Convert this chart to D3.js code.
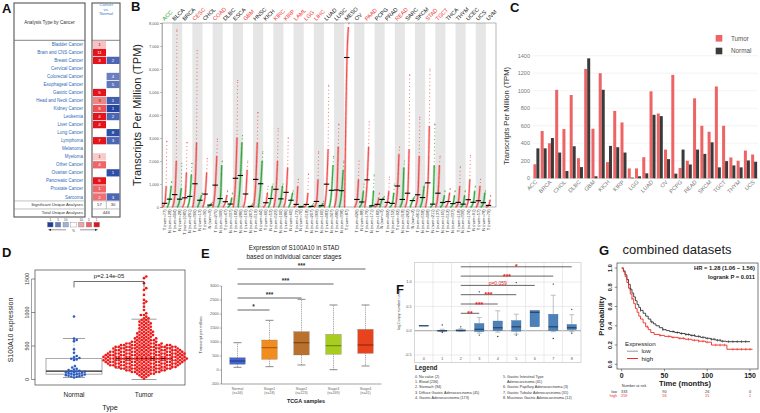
<!DOCTYPE html>
<html><head><meta charset="utf-8">
<script src="https://cdn.jsdelivr.net/npm/d3@7"></script>
<style>body{margin:0;background:#fff}svg{display:block}</style>
</head><body>
<script>
// ================= DATA =================
// Panel A (Oncomine)
const aCancers = ["Bladder Cancer","Brain and CNS Cancer","Breast Cancer","Cervical Cancer","Colorectal Cancer","Esophageal Cancer","Gastric Cancer","Head and Neck Cancer","Kidney Cancer","Leukemia","Liver Cancer","Lung Cancer","Lymphoma","Melanoma","Myeloma","Other Cancer","Ovarian Cancer","Pancreatic Cancer","Prostate Cancer","Sarcoma"];
const aUp       = [1,11,3,null,null,null,5,3,8,4,4,null,7,null,1,4,null,6,1,2];
const aUpShade  = [0.15,1,1,0,0,0,1,0.45,0.7,1,1,0,1,0,0.1,0.6,0,1,0.6,0.55];
const aDown     = [null,null,2,null,4,5,null,1,1,2,null,8,3,null,null,null,1,null,null,3];
const aDownShade= [0,0,0.75,0,0.6,0.65,0,0.8,0.95,0.75,0,0.9,0.75,0,0,0,0.9,0,0,0.75];
const aSummaryLabels = ["Significant Unique Analyses","Total Unique Analyses"];
const aSignificant = [57,30];
const aTotal = 446;
const aLegendLabels = ["1","5","10","","10","5","1"];

// Panel B (GEPIA dot plot)
const bCats = ["ACC","BLCA","BRCA","CESC","CHOL","COAD","DLBC","ESCA","GBM","HNSC","KICH","KIRC","KIRP","LAML","LGG","LIHC","LUAD","LUSC","MESO","OV","PAAD","PCPG","PRAD","READ","SARC","SKCM","STAD","TGCT","THCA","THYM","UCEC","UCS","UVM"];
const bSig  = ["down","ns","ns","up","ns","up","ns","ns","up","ns","ns","up","up","up","up","up","ns","ns","ns","ns","up","ns","ns","up","ns","ns","up","up","ns","ns","ns","ns","ns"];
const bTnum = [77,404,1085,306,36,275,47,182,163,519,66,523,286,173,518,369,483,486,87,426,179,182,492,92,262,461,408,137,512,118,174,57,79];
const bNnum = [128,28,291,13,9,349,337,286,207,44,53,100,60,70,207,160,347,338,null,88,171,3,152,318,2,558,211,165,337,339,91,78,null];
const bTmed = [160,540,400,1010,562,951,230,1249,566,1200,185,770,638,113,113,241,993,740,6500,328,1181,117,200,913,600,532,1049,600,238,200,317,272,70];
const bTq90 = [900,2000,1500,2800,1500,2200,500,3000,1600,2800,600,2000,1700,900,600,1200,2500,2600,7800,1200,2600,400,700,2300,2500,2200,3500,1800,600,900,1200,900,300];
const bTmax = [2850,7700,2800,6800,2100,2950,700,5500,2000,4100,900,3400,3000,1200,1430,2400,5300,3600,8000,2000,3700,600,1300,2600,5750,3900,6000,2200,800,1750,2250,1200,500];
const bNmed = [342,342,460,294,83,366,128,1370,23,1011,370,355,294,8,23,57,725,710,null,219,53,328,158,328,279,411,125,196,147,125,204,189,null];
const bNq90 = [900,800,1400,500,150,1800,400,2800,80,2000,900,900,600,30,80,150,1800,1600,null,700,700,400,600,1700,400,900,1800,500,500,500,700,600,null];
const bNmax = [1100,1900,1900,600,200,2000,600,3100,150,2400,1000,1000,700,50,150,250,2200,2000,null,1000,1400,450,1000,2000,450,1000,3600,700,700,700,900,700,null];
const bTicks = [0,1000,2000,3000,4000,5000,6000,7000,8000];

// Panel C (bar chart)
const cCats   = ["ACC","BLCA","BRCA","CESC","CHOL","COAD","DLBC","ESCA","GBM","HNSC","KICH","KIRC","KIRP","LAML","LGG","LIHC","LUAD","LUSC","OV","PAAD","PCPG","PRAD","READ","SARC","SKCM","STAD","TGCT","THCA","THYM","UCEC","UCS"];
const cTumor  = [160,540,400,1010,562,951,230,1249,566,1200,185,770,638,113,113,241,993,740,328,1181,117,200,913,600,532,1049,600,238,200,317,272];
const cNormal = [342,342,460,294,83,366,128,1370,23,1011,370,355,294,8,23,57,725,710,219,53,328,158,328,279,411,125,196,147,125,204,189];
const cTicks  = [0,200,400,600,800,1000,1200,1400];

// Panel D (beeswarm STAD)
const dNormal = [940,610,590,570,450,400,350,330,320,310,300,290,200,180,160,150,140,130,125,120,115,110,105,100,95,90,85,80,75,70,65,60,55,50,45,40,30];
const dTumorBinStart = 0, dTumorBinWidth = 25;
const dTumorCounts = [1,2,3,5,7,9,11,13,14,15,16,17,17,17,16,16,15,14,13,13,11,8,6,5,5,4,4,4,4,3,3,3,3,3,3,2,2,1,2,1,0,1,0,1,0,1,1,1,0,0,1,0,0,1,1,0,0,1,0,0,1,1];
const dBoxNormal = {min:30,q1:80,med:124,q3:315,max:612};
const dBoxTumor  = {min:0,q1:164,med:313,q3:478,max:900};
const dTicks = [0,500,1000,1500];
const dPText = "p=2.14e-05";

// Panel E (UALCAN stages)
const eGroups = ["Normal","Stage1","Stage2","Stage3","Stage4"];
const eN   = [34,18,123,169,41];
const eMin = [96,119,179,11,143];
const eQ1  = [204,381,536,560,595];
const eMed = [321,798,975,869,893];
const eQ3  = [440,1071,1369,1274,1452];
const eMax = [975,1774,2524,2321,2321];
const eTicks = [-500,0,500,1000,1500,2000,2500,3000];
const eSigTo = ["Stage1","Stage2","Stage3","Stage4"];
const eSigLabel = ["*","***","***","***"];

// Panel F (copy number)
const fGroups = ["0","1","2","3","4","5","6","7","8"];
const fMin = [0.10,-0.02,-0.01,-0.05,-0.03,-0.07,0.08,-0.02,-0.02];
const fQ1  = [0.10,-0.01,-0.005,-0.02,0.00,-0.01,0.08,0.00,0.02];
const fMed = [0.10,0.00,0.00,0.03,0.06,0.08,0.38,0.08,0.06];
const fQ3  = [0.11,0.01,0.02,0.15,0.20,0.21,0.42,0.34,0.13];
const fMax = [0.11,0.03,0.04,0.27,0.41,0.34,0.42,0.73,0.33];
const fOut = [[],[0.12,-0.03],[0.08],[-0.09,0.80],[-0.12],[-0.09,0.99],[],[-0.16,0.96],[0.44,-0.05]];
const fTicks = [-0.5,0.0,0.5,1.0];
const fSigTo = ["3","4","5","6","7","8"];
const fSigLabel = ["**","***","***","p=0.059","***","*"];
const fLegendCol1 = ["0. No value (2)","1. Blood (236)","2. Stomach (94)","3. Diffuse Gastric Adenocarcinoma (45)","4. Gastric Adenocarcinoma (173)"];
const fLegendCol2 = ["5. Gastric Intestinal Type","    Adenocarcinoma (41)","6. Gastric Papillary Adenocarcinoma (3)","7. Gastric Tubular Adenocarcinoma (31)","8. Mucinous Gastric Adenocarcinoma (12)"];

// Panel G (Kaplan-Meier)
const gLowT  = [0,2,4,6,8,10,12,14,16,18,20,22,25,28,31,34,37,40,44,48,52,56,62,68,74,80,86,92,98,104,110,116,122,150];
const gLowS  = [1.0,0.97,0.93,0.88,0.83,0.78,0.74,0.70,0.66,0.62,0.59,0.56,0.53,0.50,0.47,0.44,0.42,0.40,0.38,0.36,0.35,0.34,0.33,0.32,0.31,0.30,0.29,0.28,0.27,0.26,0.25,0.24,0.235,0.235];
const gHighT = [0,2,4,6,8,10,12,14,16,18,20,22,25,28,31,34,38,44,50,58,66,74,82,90,98,105,123,153];
const gHighS = [1.0,0.96,0.91,0.85,0.79,0.73,0.68,0.63,0.58,0.54,0.50,0.47,0.43,0.39,0.36,0.33,0.31,0.30,0.29,0.28,0.27,0.26,0.25,0.24,0.23,0.20,0.156,0.156];
const gLowCens  = [10,22,35,48,60,65,70,75,78,82,85,90,95,100,105,108,112,115,118,125,130,135,140,145];
const gHighCens = [12,30,45,55,60,68,72,78,85,90,95,100,110,115,120,130,135,140,145,150];
const gRiskTimes = [0,50,100,150];
const gRiskLow  = [333,90,26,0];
const gRiskHigh = [259,56,15,1];
const gHR = "HR = 1.28 (1.06 \u2212 1.56)";
const gP  = "logrank P = 0.011";

// ================= DRAW =================
const W=760,H=413;
const svg=d3.select("body").append("svg").attr("width",W).attr("height",H)
  .style("font-family",'"Liberation Sans", Arial, sans-serif');
svg.append("rect").attr("width",W).attr("height",H).attr("fill","#fff");

function txt(g,x,y,s,size,o={}){
  const t=g.append("text").attr("x",x).attr("y",y).attr("font-size",size).text(s);
  t.attr("text-anchor",o.anchor||"start");
  t.attr("fill",o.fill||"#111");
  if(o.weight) t.attr("font-weight",o.weight);
  if(o.rotate!=null) t.attr("transform",`rotate(${o.rotate},${x},${y})`);
  return t;
}
function ln(g,x1,y1,x2,y2,stroke,sw,dash){
  const l=g.append("line").attr("x1",x1).attr("y1",y1).attr("x2",x2).attr("y2",y2).attr("stroke",stroke).attr("stroke-width",sw);
  if(dash) l.attr("stroke-dasharray",dash);
  return l;
}

// ---------- Panel A ----------
(function(){
  const g=svg.append("g");
  txt(g,2,13,"A",13,{weight:"bold"});
  const aRows=aCancers.concat(aSummaryLabels);
  const yA=d3.scaleBand().domain(aRows).range([40.3,217]);
  const redA=d3.interpolateRgb("#fbe0e0","#e5141b");
  const blueA=d3.interpolateRgb("#dce2f3","#1c3d9c");
  g.append("rect").attr("x",14).attr("y",3).attr("width",71).attr("height",214).attr("fill","none").attr("stroke","#555").attr("stroke-width",1.1);
  g.append("rect").attr("x",92).attr("y",3).attr("width",28).attr("height",214).attr("fill","none").attr("stroke","#555").attr("stroke-width",1.1);
  ln(g,14,40.3,85,40.3,"#777",0.9); ln(g,92,40.3,120,40.3,"#777",0.9);
  aSummaryLabels.forEach(s=>{ const y=yA(s); ln(g,14,y,85,y,"#999",0.6); ln(g,92,y,120,y,"#999",0.6); });
  ln(g,106.3,yA(aSummaryLabels[0]),106.3,yA(aSummaryLabels[1]),"#999",0.6);
  txt(g,49.5,23.5,"Analysis Type by Cancer",4.6,{anchor:"middle",fill:"#333"});
  ["Cancer","vs.","Normal"].forEach((s,i)=>txt(g,106.3,5.8+i*4.7,s,4.2,{anchor:"middle",fill:"#3c78c8"}));
  const bw=yA.bandwidth();
  aCancers.forEach((c,i)=>{
    const y0=yA(c);
    txt(g,83,y0+bw/2+1.6,c,4.5,{anchor:"end",fill:"#2e6bb8"});
    if(aUp[i]!=null){
      g.append("rect").attr("x",93).attr("y",y0+0.4).attr("width",13).attr("height",bw-0.8).attr("fill",redA(aUpShade[i]));
      txt(g,99.5,y0+bw/2+1.6,aUp[i],4.4,{anchor:"middle",fill:aUpShade[i]>0.5?"#fff":"#333"});
    }
    if(aDown[i]!=null){
      g.append("rect").attr("x",106.6).attr("y",y0+0.4).attr("width",13).attr("height",bw-0.8).attr("fill",blueA(aDownShade[i]));
      txt(g,113.1,y0+bw/2+1.6,aDown[i],4.4,{anchor:"middle",fill:aDownShade[i]>0.5?"#fff":"#333"});
    }
  });
  aSummaryLabels.forEach(s=>txt(g,83,yA(s)+bw/2+1.5,s,4.2,{anchor:"end",fill:"#333"}));
  txt(g,99.5,yA(aSummaryLabels[0])+bw/2+1.5,aSignificant[0],4.3,{anchor:"middle",fill:"#333"});
  txt(g,113.1,yA(aSummaryLabels[0])+bw/2+1.5,aSignificant[1],4.3,{anchor:"middle",fill:"#333"});
  txt(g,106.3,yA(aSummaryLabels[1])+bw/2+1.5,aTotal,4.3,{anchor:"middle",fill:"#333"});
  // legend
  const xL=d3.scaleBand().domain(d3.range(7)).range([47.5,99.5]).paddingInner(0.28);
  const legCols=[blueA(1),blueA(0.62),blueA(0.3),"#fff",redA(0.3),redA(0.62),redA(1)];
  legCols.forEach((c,i)=>{
    g.append("rect").attr("x",xL(i)).attr("y",222.2).attr("width",xL.bandwidth()).attr("height",4.8).attr("fill",c).attr("stroke","#888").attr("stroke-width",0.4);
    if(aLegendLabels[i]) txt(g,xL(i)+xL.bandwidth()/2,221.2,aLegendLabels[i],3.1,{anchor:"middle",fill:"#444"});
  });
  txt(g,xL(3)+xL.bandwidth()/2,232,"%",3.4,{anchor:"middle",fill:"#444"});
  ln(g,66,229.8,50,229.8,"#333",0.5); g.append("path").attr("d","M48,229.8 L51,228.7 L51,230.9Z").attr("fill","#333");
  ln(g,80,229.8,96,229.8,"#333",0.5); g.append("path").attr("d","M98,229.8 L95,228.7 L95,230.9Z").attr("fill","#333");
})();

// ---------- Panel B ----------
(function(){
  const g=svg.append("g");
  txt(g,131,11,"B",13,{weight:"bold"});
  const xB=d3.scaleBand().domain(bCats).range([162,496]);
  const yB=d3.scaleLinear().domain([0,8000]).range([207,23]);
  const bw=xB.bandwidth();
  bCats.forEach((c,i)=>{ if(i%2===1) g.append("rect").attr("x",xB(c)).attr("y",23).attr("width",bw).attr("height",184).attr("fill","#e6e6e6"); });
  g.append("rect").attr("x",162).attr("y",23).attr("width",334).attr("height",184).attr("fill","none").attr("stroke","#888").attr("stroke-width",0.6);
  const ax=g.append("g").attr("transform","translate(162,0)").call(d3.axisLeft(yB).tickValues(bTicks).tickSize(2).tickPadding(1));
  ax.selectAll("text").attr("font-size",4).attr("fill","#555");
  ax.selectAll("line,path").attr("stroke","#888").attr("stroke-width",0.5);
  txt(g,141,115,"Transcripts Per Million (TPM)",11,{anchor:"middle",fill:"#222",rotate:-90});
  const line=d3.line().curve(d3.curveMonotoneX);
  function cloud(x0,w,med,q90,max,color){
    const m=Math.min(max,8000), q=Math.min(q90,8000);
    const dense=[[x0,yB(0)],[x0+0.55*w,yB(med)],[x0+0.86*w,yB(q)]];
    const tail=[[x0+0.86*w,yB(q)],[x0+w,yB(m)]];
    g.append("path").attr("d",line(dense)).attr("fill","none").attr("stroke",color).attr("stroke-width",2.4).attr("opacity",0.3);
    g.append("path").attr("d",line(dense)).attr("fill","none").attr("stroke",color).attr("stroke-width",1.3).attr("stroke-linecap","round").attr("stroke-dasharray","0.3 1.0").attr("opacity",0.9);
    g.append("path").attr("d",line(tail)).attr("fill","none").attr("stroke",color).attr("stroke-width",1.0).attr("stroke-linecap","round").attr("stroke-dasharray","0.2 3.5").attr("opacity",0.75);
    g.append("circle").attr("cx",x0+w).attr("cy",yB(m)).attr("r",0.6).attr("fill",color).attr("opacity",0.8);
  }
  const colT="#f2403f", colN="#1f9e2a";
  bCats.forEach((c,i)=>{
    const x0=xB(c);
    const tx=x0+0.4, nx=x0+5.3, sw=4.4;
    cloud(tx,sw,bTmed[i],bTq90[i],bTmax[i],colT);
    if(bNmed[i]!=null) cloud(nx,sw,bNmed[i],bNq90[i],bNmax[i],colN);
    ln(g,tx+sw/2-2.7,yB(bTmed[i]),tx+sw/2+2.7,yB(bTmed[i]),"#000",1.1);
    if(bNmed[i]!=null) ln(g,nx+sw/2-2.7,yB(bNmed[i]),nx+sw/2+2.7,yB(bNmed[i]),"#000",1.1);
    const col=bSig[i]==="up"?"#ee3333":(bSig[i]==="down"?"#17a017":"#111");
    txt(g,x0+2.5,21,c,5.6,{fill:col,rotate:-45});
    txt(g,tx+sw/2+1.4,209.5,`T (num=${bTnum[i]})`,4,{anchor:"end",fill:"#333",rotate:-90});
    if(bNnum[i]!=null) txt(g,nx+sw/2+1.4,209.5,`N (num=${bNnum[i]})`,4,{anchor:"end",fill:"#333",rotate:-90});
  });
})();

// ---------- Panel C ----------
(function(){
  const g=svg.append("g");
  txt(g,510,12,"C",13,{weight:"bold"});
  const xC=d3.scaleBand().domain(cCats).range([533,758]);
  const yC=d3.scaleLinear().domain([0,1400]).range([178.3,55.7]);
  cTicks.forEach(t=>{ ln(g,533,yC(t),758,yC(t),t===0?"#bbb":"#ececec",0.6); txt(g,530,yC(t)+1.8,t,5.5,{anchor:"end",fill:"#777"}); });
  cCats.forEach((c,i)=>{
    const x=xC(c);
    g.append("rect").attr("x",x+0.4).attr("y",yC(cTumor[i])).attr("width",3).attr("height",yC(0)-yC(cTumor[i])).attr("fill","#ee6464");
    g.append("rect").attr("x",x+3.4).attr("y",yC(cNormal[i])).attr("width",3).attr("height",yC(0)-yC(cNormal[i])).attr("fill","#3a3a3a");
    if(i%2===0) txt(g,x+4.5,182.5,c,5.6,{anchor:"end",fill:"#777",rotate:-45});
  });
  txt(g,509,116,"Transcripts Per Million (TPM)",7.6,{anchor:"middle",fill:"#333",rotate:-90});
  g.append("rect").attr("x",715.7).attr("y",35).attr("width",6.6).attr("height",6.6).attr("fill","#ee6464");
  txt(g,731,40.6,"Tumor",6.3,{fill:"#555"});
  g.append("rect").attr("x",715.7).attr("y",47.7).attr("width",6.6).attr("height",6.6).attr("fill","#3a3a3a");
  txt(g,731,53.3,"Normal",6.3,{fill:"#555"});
})();

// ---------- Panel D ----------
(function(){
  const g=svg.append("g");
  txt(g,2,257,"D",13,{weight:"bold"});
  const yD=d3.scaleLinear().domain([0,1000]).range([379.5,312.5]);
  const xN=74, xT=144;
  g.append("rect").attr("x",35).attr("y",270).attr("width",150).attr("height",115).attr("fill","none").attr("stroke","#444").attr("stroke-width",0.7);
  dTicks.forEach(t=>{ ln(g,35,yD(t),31.5,yD(t),"#444",0.6); txt(g,28.5,yD(t),t,5.3,{anchor:"middle",fill:"#333",rotate:-90}); });
  ln(g,31.5,yD(0),31.5,yD(1500),"#444",0.5);
  txt(g,13,330,"S100A10 expression",7,{anchor:"middle",fill:"#222",rotate:-90});
  function box(cx,b,w,cw){
    ln(g,cx,yD(b.q3),cx,yD(b.max),"#888",0.6,"1.5,1");
    ln(g,cx,yD(b.q1),cx,yD(b.min),"#888",0.6,"1.5,1");
    ln(g,cx-cw/2,yD(b.max),cx+cw/2,yD(b.max),"#888",0.8);
    ln(g,cx-cw/2,yD(b.min),cx+cw/2,yD(b.min),"#888",0.8);
    g.append("rect").attr("x",cx-w/2).attr("y",yD(b.q3)).attr("width",w).attr("height",yD(b.q1)-yD(b.q3)).attr("fill","#fff").attr("stroke","#888").attr("stroke-width",0.7);
    ln(g,cx-w/2,yD(b.med),cx+w/2,yD(b.med),"#222",1.3);
  }
  box(xN,dBoxNormal,56,22); box(xT,dBoxTumor,57,25);
  function swarm(vals,cx,r){
    const placed=[];
    vals.slice().sort((a,b)=>a-b).forEach(v=>{
      const py=yD(v); let px=cx;
      for(let k=0;k<400;k++){
        const off=(k%2?1:-1)*Math.ceil(k/2)*0.45, cand=cx+off;
        let ok=true;
        for(const p of placed){ const dx=p[0]-cand, dy=p[1]-py; if(dx*dx+dy*dy<(2*r)*(2*r)*0.9){ok=false;break;} }
        if(ok){px=cand;break;}
      }
      placed.push([px,py]);
    });
    return placed;
  }
  const tumorVals=[];
  dTumorCounts.forEach((n,i)=>{ for(let j=0;j<n;j++) tumorVals.push(dTumorBinStart+(i+0.5)*dTumorBinWidth); });
  swarm(dNormal,xN,1.4).forEach(p=>g.append("circle").attr("cx",p[0]).attr("cy",p[1]).attr("r",1.3).attr("fill","#2a5bc4"));
  swarm(tumorVals,xT,1.45).forEach(p=>g.append("circle").attr("cx",p[0]).attr("cy",p[1]).attr("r",1.35).attr("fill","#f01818"));
  g.append("path").attr("d",`M${xN},287.5 L${xN},281.5 L${xT},281.5 L${xT},287.5`).attr("fill","none").attr("stroke","#333").attr("stroke-width",0.7);
  txt(g,(xN+xT)/2,278,dPText,6,{anchor:"middle",fill:"#222"});
  txt(g,xN,397,"Normal",6.5,{anchor:"middle",fill:"#222"});
  txt(g,xT,397,"Tumor",6.5,{anchor:"middle",fill:"#222"});
  txt(g,110,410,"Type",7.2,{anchor:"middle",fill:"#222"});
})();

// ---------- Panel E ----------
(function(){
  const g=svg.append("g");
  txt(g,201,258,"E",13,{weight:"bold"});
  txt(g,294,250,"Expression of S100A10 in STAD",6.3,{anchor:"middle",fill:"#222"});
  txt(g,294,258.5,"based on individual cancer stages",6.3,{anchor:"middle",fill:"#222"});
  const xE=d3.scaleBand().domain(eGroups).range([221.5,381.5]);
  const yE=d3.scaleLinear().domain([-500,3000]).range([384,286]);
  ln(g,221.5,yE(-500),221.5,yE(3000),"#666",0.6);
  ln(g,221.5,yE(-500),381.5,yE(-500),"#666",0.6);
  eTicks.forEach(t=>{ ln(g,221.5,yE(t),219.5,yE(t),"#666",0.5); txt(g,218.5,yE(t)+1.3,t,3.8,{anchor:"end",fill:"#555"}); });
  txt(g,202,335,"Transcript per million",4,{anchor:"middle",fill:"#333",rotate:-90});
  const fills=["#4466cc","#f28c1f","#b9712d","#a8cc20","#e8431d"];
  const meds=["#243e8c","#b05c0c","#7a4617","#6d8a0e","#962a0c"];
  const bwE=15.5, cap=8;
  eGroups.forEach((c,i)=>{
    const cx=xE(c)+xE.bandwidth()/2;
    ln(g,cx,yE(eQ3[i]),cx,yE(eMax[i]),"#666",0.6,"1,0.8");
    ln(g,cx,yE(eQ1[i]),cx,yE(eMin[i]),"#666",0.6,"1,0.8");
    ln(g,cx-cap/2,yE(eMax[i]),cx+cap/2,yE(eMax[i]),"#555",0.7);
    ln(g,cx-cap/2,yE(eMin[i]),cx+cap/2,yE(eMin[i]),"#555",0.7);
    g.append("rect").attr("x",cx-bwE/2).attr("y",yE(eQ3[i])).attr("width",bwE).attr("height",yE(eQ1[i])-yE(eQ3[i])).attr("fill",fills[i]).attr("stroke","#777").attr("stroke-width",0.3);
    ln(g,cx-bwE/2,yE(eMed[i]),cx+bwE/2,yE(eMed[i]),meds[i],1.2);
    txt(g,cx,389.8,c,3.6,{anchor:"middle",fill:"#666"});
    txt(g,cx,394.3,`(n=${eN[i]})`,3.6,{anchor:"middle",fill:"#666"});
  });
  txt(g,306,403,"TCGA samples",5.4,{anchor:"middle",fill:"#222",weight:"bold"});
  const x0=xE("Normal")+xE.bandwidth()/2;
  const sigY=[310,298,284,269];
  eSigTo.forEach((s,k)=>{
    const x1=xE(s)+xE.bandwidth()/2;
    ln(g,x0,sigY[k],x1,sigY[k],"#555",0.9);
    txt(g,(x0+x1)/2,sigY[k]-0.6,eSigLabel[k],6.5,{anchor:"middle",fill:"#333",weight:"bold"});
  });
})();

// ---------- Panel F ----------
(function(){
  const g=svg.append("g");
  txt(g,396,294,"F",13,{weight:"bold"});
  const xF=d3.scaleBand().domain(fGroups).range([414.5,581]);
  const yF=d3.scaleLinear().domain([-0.65,1.4]).range([362.3,262.7]);
  const top=262.7,bot=362.3;
  fTicks.forEach(t=>{ ln(g,414.5,yF(t),581,yF(t),t===0?"#888":"#ddd",t===0?0.8:0.6); txt(g,411.5,yF(t)+1.3,t.toFixed(1),3.8,{anchor:"end",fill:"#555"}); });
  fGroups.forEach((c,i)=>{ if(i>0) ln(g,xF(c),top,xF(c),bot,"#ddd",0.6); });
  g.append("rect").attr("x",414.5).attr("y",top).attr("width",166.5).attr("height",bot-top).attr("fill","none").attr("stroke","#bbb").attr("stroke-width",0.6);
  txt(g,400,310,"log2 copy number units",3.8,{anchor:"middle",fill:"#444",rotate:-90});
  const bwF=9.5, cap=5;
  fGroups.forEach((c,i)=>{
    const cx=xF(c)+xF.bandwidth()/2;
    txt(g,cx,359.5,c,3.8,{anchor:"middle",fill:"#555"});
    if(fMax[i]>fQ3[i]){ ln(g,cx,yF(fQ3[i]),cx,yF(fMax[i]),"#999",0.6); ln(g,cx-cap/2,yF(fMax[i]),cx+cap/2,yF(fMax[i]),"#999",0.6); }
    if(fMin[i]<fQ1[i]){ ln(g,cx,yF(fQ1[i]),cx,yF(fMin[i]),"#999",0.6); ln(g,cx-cap/2,yF(fMin[i]),cx+cap/2,yF(fMin[i]),"#999",0.6); }
    g.append("rect").attr("x",cx-bwF/2).attr("y",yF(fQ3[i])).attr("width",bwF).attr("height",Math.max(0.6,yF(fQ1[i])-yF(fQ3[i]))).attr("fill","#4d82b9").attr("stroke","#3a6a9c").attr("stroke-width",0.3);
    ln(g,cx-bwF/2,yF(fMed[i]),cx+bwF/2,yF(fMed[i]),"#1b2c45",0.9);
    fOut[i].forEach(v=>g.append("circle").attr("cx",cx).attr("cy",yF(v)).attr("r",0.7).attr("fill","#222"));
  });
  const x0=xF("2")+xF.bandwidth()/2;
  fSigTo.forEach((s,k)=>{
    const x1=xF(s)+xF.bandwidth()/2, y=313.3-k*9.3;
    ln(g,x0,y,x1,y,"#555",0.9);
    const isP=fSigLabel[k].startsWith("p");
    txt(g,(x0+x1)/2,isP?y-0.8:y+2.6,fSigLabel[k],isP?5:7,{anchor:"middle",fill:"#e52222",weight:isP?null:"bold"});
  });
  txt(g,415,370,"Legend",6.3,{fill:"#222",weight:"bold"});
  fLegendCol1.forEach((s,i)=>txt(g,415,377.5+i*5.4,s,3.7,{fill:"#333"}));
  fLegendCol2.forEach((s,i)=>txt(g,503,377.5+i*5.4,s,3.7,{fill:"#333"}).attr("xml:space","preserve"));
})();

// ---------- Panel G ----------
(function(){
  const g=svg.append("g");
  txt(g,599,255,"G",13,{weight:"bold"});
  txt(g,622.5,254,"combined datasets",13,{fill:"#222"});
  const xG=d3.scaleLinear().domain([0,150]).range([621.7,750]);
  const yG=d3.scaleLinear().domain([0,1]).range([364.3,268]);
  g.append("rect").attr("x",617).attr("y",263).attr("width",141).attr("height",106).attr("fill","none").attr("stroke","#444").attr("stroke-width",0.7);
  [0,50,100,150].forEach(t=>{ ln(g,xG(t),369,xG(t),371.3,"#444",0.6); txt(g,xG(t),377.5,t,7,{anchor:"middle",fill:"#222",weight:"bold"}); });
  [0,0.2,0.4,0.6,0.8,1.0].forEach(t=>{ ln(g,617,yG(t),614.7,yG(t),"#444",0.6); txt(g,612.3,yG(t),t.toFixed(1),5.6,{anchor:"middle",fill:"#222",weight:"bold",rotate:-90}); });
  txt(g,685,386,"Time (months)",7.6,{anchor:"middle",fill:"#222",weight:"bold"});
  txt(g,604,316,"Probability",7.6,{anchor:"middle",fill:"#222",weight:"bold",rotate:-90});
  const step=d3.line().x(d=>xG(d[0])).y(d=>yG(d[1])).curve(d3.curveStepAfter);
  const low=gLowT.map((t,i)=>[t,gLowS[i]]), high=gHighT.map((t,i)=>[t,gHighS[i]]);
  g.append("path").attr("d",step(low)).attr("fill","none").attr("stroke","#333").attr("stroke-width",0.9);
  g.append("path").attr("d",step(high)).attr("fill","none").attr("stroke","#ee2a22").attr("stroke-width",0.9);
  function sAt(T,S,t){ let s=S[0]; for(let i=0;i<T.length;i++){ if(T[i]<=t) s=S[i]; } return s; }
  gLowCens.forEach(t=>{ const y=yG(sAt(gLowT,gLowS,t)); ln(g,xG(t),y-1.3,xG(t),y+1.3,"#333",0.6); });
  gHighCens.forEach(t=>{ const y=yG(sAt(gHighT,gHighS,t)); ln(g,xG(t),y-1.3,xG(t),y+1.3,"#ee2a22",0.6); });
  txt(g,755,269.5,gHR,5.8,{anchor:"end",fill:"#222",weight:"bold"});
  txt(g,755,278.5,gP,5.8,{anchor:"end",fill:"#222",weight:"bold"});
  txt(g,625,346,"Expression",6.2,{fill:"#222"});
  ln(g,627,351.2,638,351.2,"#999",1); txt(g,641.5,353.3,"low",6.2,{fill:"#222"});
  ln(g,627,358.5,638,358.5,"#ee2a22",1); txt(g,641.5,360.6,"high",6.2,{fill:"#222"});
  txt(g,621.7,386.5,"Number at risk",3.8,{fill:"#333"});
  txt(g,617,392.6,"low",3.8,{anchor:"end",fill:"#333"});
  txt(g,617,396.8,"high",3.8,{anchor:"end",fill:"#ee2a22"});
  gRiskTimes.forEach((t,i)=>{
    txt(g,xG(t)+(i===0?2.5:0),392.6,gRiskLow[i],3.8,{anchor:"middle",fill:"#333"});
    txt(g,xG(t)+(i===0?2.5:0),396.8,gRiskHigh[i],3.8,{anchor:"middle",fill:"#ee2a22"});
  });
})();
</script>
</body></html>
